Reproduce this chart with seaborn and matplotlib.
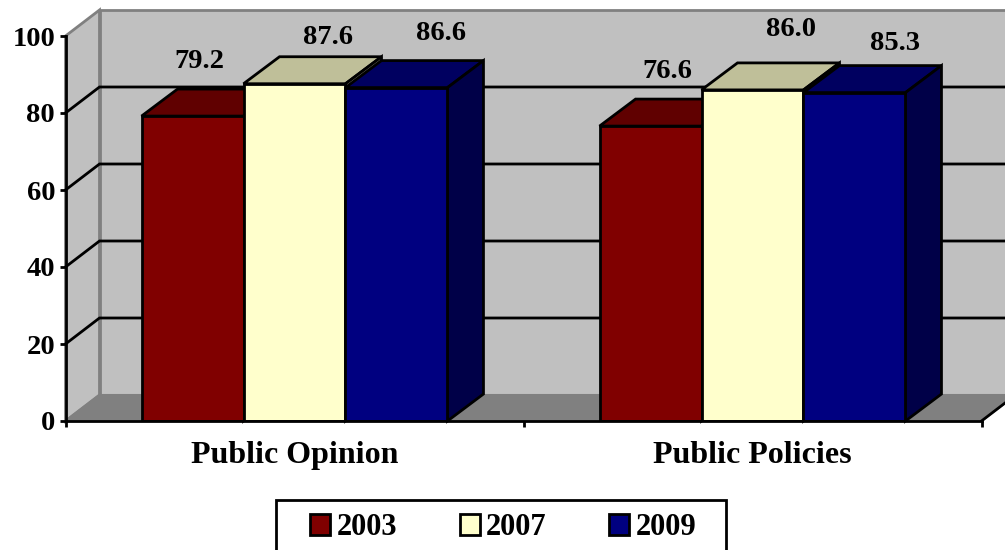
import matplotlib
matplotlib.use("Agg")
import matplotlib.pyplot as plt
import pandas as pd
import seaborn as sns
from matplotlib.patches import Polygon, Rectangle

categories = ["Public Opinion", "Public Policies"]
years = ["2003", "2007", "2009"]
values_2003 = [79.2, 76.6]
values_2007 = [87.6, 86.0]
values_2009 = [86.6, 85.3]

front_colors = ["#800000", "#FFFFCC", "#000080"]
top_colors = ["#600000", "#BFBF99", "#000060"]
side_colors = ["#400000", "#80806A", "#000048"]

# Pixel offsets of each value label from the middle of its bar's top edge
label_offsets = [(7, 55), (33, 46), (45, 54), (17, 55), (38, 60), (41, 49)]

WALL_DEPTH = (34, 26)   # pixels right / up
BAR_DEPTH = (36, 27)
FONT = "Liberation Serif"

sns.set_theme(style="white")
plt.rcParams["font.family"] = [FONT, "DejaVu Sans"]
plt.rcParams["font.weight"] = "bold"

W, H = 1005, 550
fig = plt.figure(figsize=(W / 100, H / 100), dpi=100)
ax = fig.add_axes([65.5 / W, 1 - 421 / H, 916 / W, 385 / H])

df = pd.DataFrame({
    "category": categories * 3,
    "year": [y for y in years for _ in categories],
    "value": values_2003 + values_2007 + values_2009,
})
sns.barplot(data=df, x="category", y="value", hue="year", palette=front_colors,
            width=0.668, gap=0, saturation=1, edgecolor="black", linewidth=2,
            ax=ax, zorder=2)
ax.set_xlim(-0.5, 1.5)
ax.set_ylim(0, 100)

px_x = (ax.get_xlim()[1] - ax.get_xlim()[0]) / 916
px_y = 100 / 385


def shifted(x, y, depth):
    return x + depth[0] * px_x, y + depth[1] * px_y


def face(points, color, zorder, edge="black", lw=2):
    ax.add_patch(Polygon(points, closed=True, facecolor=color, edgecolor=edge,
                         linewidth=lw, zorder=zorder, clip_on=False,
                         joinstyle="miter"))


x0, x1 = ax.get_xlim()
back = lambda x, y: shifted(x, y, WALL_DEPTH)

# Chart walls and floor
face([back(x0, 0), back(x1, 0), back(x1, 100), back(x0, 100)], "#C0C0C0", 0.5, "#808080", 2)
face([(x0, 0), back(x0, 0), back(x0, 100), (x0, 100)], "#C0C0C0", 0.5, "#808080", 2)
face([(x0, 0), back(x0, 0), back(x1, 0), (x1, 0)], "#808080", 0.6, "#808080", 1.5)
ax.plot(*zip((x1, 0), back(x1, 0)), color="black", lw=2, zorder=0.7, clip_on=False)

# Gridlines run along the side wall and then across the back wall
for level in range(20, 100, 20):
    ax.plot(*zip((x0, level), back(x0, level), back(x1, level)),
            color="black", lw=2, zorder=0.8, clip_on=False, solid_joinstyle="miter")

# Top and side faces, stacked so that each bar overlaps the one to its left
bars = sorted((p for p in ax.patches if isinstance(p, Rectangle) and p.get_width() > 0),
              key=lambda p: p.get_x())
for i, bar in enumerate(bars):
    left, right = bar.get_x(), bar.get_x() + bar.get_width()
    top = bar.get_height()
    z = 2 + i * 0.1
    shade = i % 3
    d = lambda x, y: shifted(x, y, BAR_DEPTH)
    face([(left, top), d(left, top), d(right, top), (right, top)], top_colors[shade], z)
    face([(right, 0), d(right, 0), d(right, top), (right, top)], side_colors[shade], z)
    bar.set_zorder(z + 0.05)
    bar.set_joinstyle("miter")
    dx, dy = label_offsets[i]
    ax.annotate(f"{top:.1f}", xy=((left + right) / 2, top), xytext=(dx * 0.72, dy * 0.72),
                textcoords="offset points", ha="center", va="center", fontsize=20.5,
                fontweight="bold", color="black", zorder=6, annotation_clip=False)

# Axes, ticks and labels
for name in ("top", "right"):
    ax.spines[name].set_visible(False)
for name in ("left", "bottom"):
    ax.spines[name].set_color("black")
    ax.spines[name].set_linewidth(2)
    ax.spines[name].set_zorder(1.5)
ax.spines["bottom"].set_zorder(5)
ax.set_xlabel("")
ax.set_ylabel("")
ax.set_yticks(range(0, 101, 20))
ax.set_xticks([-0.5, 0.5, 1.5], labels=["", "", ""])
ax.set_xticks([0, 1], labels=categories, minor=True)
ax.tick_params(axis="y", which="major", left=True, length=4.5, width=2, color="black",
               labelsize=20.5, pad=3, labelcolor="black")
ax.tick_params(axis="x", which="major", bottom=True, length=4.5, width=2, color="black")
ax.tick_params(axis="x", which="minor", bottom=False, labelsize=23, pad=10.5, labelcolor="black")
ax.patch.set_visible(False)

# Legend in a box that runs off the lower edge of the figure
sns.move_legend(ax, "upper left", bbox_to_anchor=(304 / W, 1 - 507 / H),
                bbox_transform=fig.transFigure, ncol=3, title=None, frameon=False,
                fontsize=22, handlelength=0.66, handleheight=0.66, handletextpad=0.2,
                columnspacing=2.05, borderaxespad=0, borderpad=0.2)
for text in ax.get_legend().get_texts():
    text.set_fontweight("bold")
    text.set_color("black")
fig.add_artist(Rectangle((276 / W, 1 - 560 / H), 450 / W, 60 / H, transform=fig.transFigure,
                         facecolor="white", edgecolor="black", linewidth=2, zorder=-1))

fig.savefig("out.png", dpi=100, facecolor="white")
